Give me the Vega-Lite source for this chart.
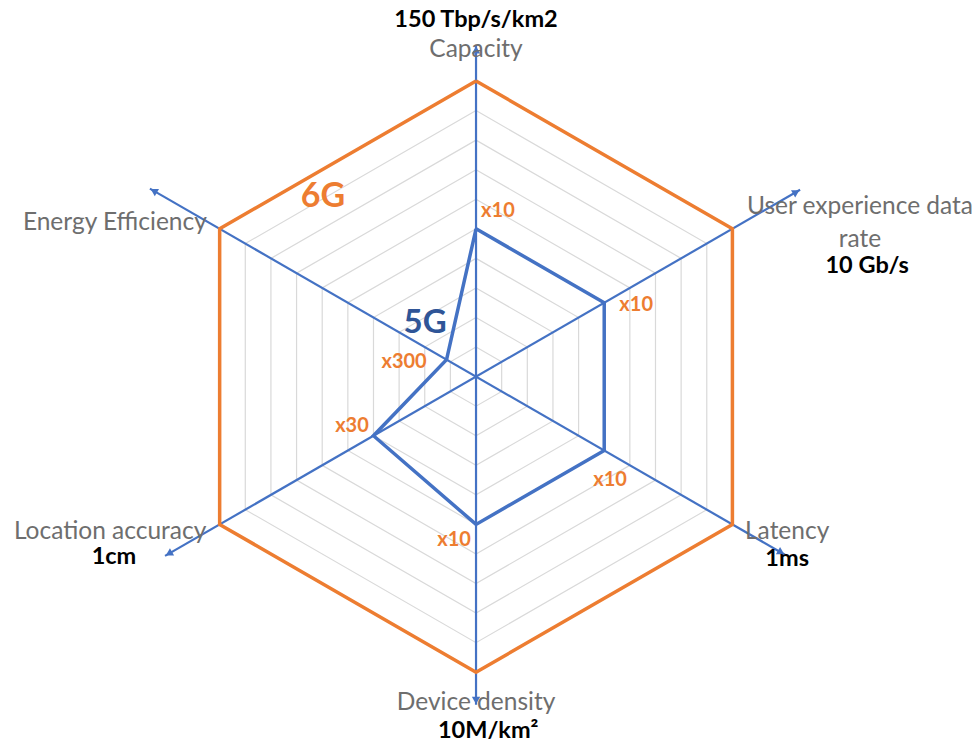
{
  "$schema": "https://vega.github.io/schema/vega-lite/v6.json",
  "width": 979,
  "height": 743,
  "padding": 0,
  "autosize": {"type": "fit", "contains": "padding"},
  "background": "white",
  "config": {"view": {"stroke": null}},
  "datasets": {
    "grid": [
      {"level": 0.1, "axis": [0,1,2,3,4,5,6]},
      {"level": 0.2, "axis": [0,1,2,3,4,5,6]},
      {"level": 0.3, "axis": [0,1,2,3,4,5,6]},
      {"level": 0.4, "axis": [0,1,2,3,4,5,6]},
      {"level": 0.5, "axis": [0,1,2,3,4,5,6]},
      {"level": 0.6, "axis": [0,1,2,3,4,5,6]},
      {"level": 0.7, "axis": [0,1,2,3,4,5,6]},
      {"level": 0.8, "axis": [0,1,2,3,4,5,6]},
      {"level": 0.9, "axis": [0,1,2,3,4,5,6]}
    ],
    "series": [
      {"series": "6G", "axis": 0, "r": 1},
      {"series": "6G", "axis": 1, "r": 1},
      {"series": "6G", "axis": 2, "r": 1},
      {"series": "6G", "axis": 3, "r": 1},
      {"series": "6G", "axis": 4, "r": 1},
      {"series": "6G", "axis": 5, "r": 1},
      {"series": "6G", "axis": 6, "r": 1},
      {"series": "5G", "axis": 0, "r": 0.5},
      {"series": "5G", "axis": 1, "r": 0.5},
      {"series": "5G", "axis": 2, "r": 0.5},
      {"series": "5G", "axis": 3, "r": 0.5},
      {"series": "5G", "axis": 4, "r": 0.4},
      {"series": "5G", "axis": 5, "r": 0.115},
      {"series": "5G", "axis": 6, "r": 0.5}
    ],
    "axes": [
      {"line": "A", "axis": 0, "r": 1.12},
      {"line": "A", "axis": 3, "r": 1.11},
      {"line": "B", "axis": 1, "r": 1.264},
      {"line": "B", "axis": 4, "r": 1.213},
      {"line": "C", "axis": 2, "r": 1.205},
      {"line": "C", "axis": 5, "r": 1.272}
    ],
    "labels": [
      {"kind": "name", "text": "Capacity", "x": 0, "y": 1.105},
      {"kind": "name", "text": "User experience data", "x": 1.297, "y": 0.574},
      {"kind": "name", "text": "rate", "x": 1.297, "y": 0.463},
      {"kind": "name", "text": "Latency", "x": 1.051, "y": -0.524},
      {"kind": "name", "text": "Device density", "x": 0, "y": -1.105},
      {"kind": "name", "text": "Location accuracy", "x": -1.236, "y": -0.524},
      {"kind": "name", "text": "Energy Efficiency", "x": -1.22, "y": 0.52},
      {"kind": "value", "text": "150 Tbp/s/km2", "x": 0, "y": 1.206},
      {"kind": "value", "text": "10 Gb/s", "x": 1.321, "y": 0.375},
      {"kind": "value", "text": "1ms", "x": 1.051, "y": -0.616},
      {"kind": "value", "text": "10M/km²", "x": 0.041, "y": -1.2},
      {"kind": "value", "text": "1cm", "x": -1.223, "y": -0.61},
      {"kind": "mult", "text": "x10", "x": 0.074, "y": 0.561},
      {"kind": "mult", "text": "x10", "x": 0.541, "y": 0.243},
      {"kind": "mult", "text": "x10", "x": 0.453, "y": -0.351},
      {"kind": "mult", "text": "x10", "x": -0.074, "y": -0.554},
      {"kind": "mult", "text": "x30", "x": -0.419, "y": -0.166},
      {"kind": "mult", "text": "x300", "x": -0.243, "y": 0.051},
      {"kind": "gen6", "text": "6G", "x": -0.517, "y": 0.608},
      {"kind": "gen5", "text": "5G", "x": -0.172, "y": 0.182}
    ]
  },
  "layer": [
    {
      "data": {"name": "grid"},
      "transform": [
        {"flatten": ["axis"]},
        {"calculate": "datum.level * sin(datum.axis * PI / 3)", "as": "px"},
        {"calculate": "datum.level * cos(datum.axis * PI / 3)", "as": "py"}
      ],
      "mark": {"type": "line", "stroke": "#D9D9D9", "strokeWidth": 1.2},
      "encoding": {
        "x": {"field": "px", "type": "quantitative", "scale": {"domain": [-1.608, 1.699], "nice": false, "zero": false}, "axis": null},
        "y": {"field": "py", "type": "quantitative", "scale": {"domain": [-1.236, 1.274], "nice": false, "zero": false}, "axis": null},
        "detail": {"field": "level", "type": "nominal"},
        "order": {"field": "axis", "type": "quantitative"}
      }
    },
    {
      "data": {"name": "axes"},
      "transform": [
        {"calculate": "datum.r * sin(datum.axis * PI / 3)", "as": "px"},
        {"calculate": "datum.r * cos(datum.axis * PI / 3)", "as": "py"}
      ],
      "mark": {"type": "line", "stroke": "#4472C4", "strokeWidth": 2.2},
      "encoding": {
        "x": {"field": "px", "type": "quantitative"},
        "y": {"field": "py", "type": "quantitative"},
        "detail": {"field": "line", "type": "nominal"},
        "order": {"field": "axis", "type": "quantitative"}
      }
    },
    {
      "data": {"name": "axes"},
      "transform": [
        {"calculate": "(datum.r - 0.015) * sin(datum.axis * PI / 3)", "as": "px"},
        {"calculate": "(datum.r - 0.015) * cos(datum.axis * PI / 3)", "as": "py"},
        {"calculate": "datum.axis * 60", "as": "deg"}
      ],
      "mark": {"type": "point", "shape": "triangle-up", "filled": true, "color": "#4472C4", "size": 70, "opacity": 1},
      "encoding": {
        "x": {"field": "px", "type": "quantitative"},
        "y": {"field": "py", "type": "quantitative"},
        "angle": {"field": "deg", "type": "quantitative", "scale": null}
      }
    },
    {
      "data": {"name": "series"},
      "transform": [
        {"calculate": "datum.r * sin(datum.axis * PI / 3)", "as": "px"},
        {"calculate": "datum.r * cos(datum.axis * PI / 3)", "as": "py"}
      ],
      "mark": {"type": "line", "strokeWidth": 3.5, "strokeJoin": "miter"},
      "encoding": {
        "x": {"field": "px", "type": "quantitative"},
        "y": {"field": "py", "type": "quantitative"},
        "detail": {"field": "series", "type": "nominal"},
        "order": {"field": "axis", "type": "quantitative"},
        "color": {"field": "series", "type": "nominal", "scale": {"domain": ["6G", "5G"], "range": ["#ED7D31", "#4472C4"]}, "legend": null}
      }
    },
    {
      "data": {"name": "labels"},
      "transform": [{"filter": "datum.kind == 'name'"}],
      "mark": {"type": "text", "font": "Lato", "fontSize": 24.5, "color": "#6E6E6E", "align": "center", "baseline": "middle"},
      "encoding": {
        "x": {"field": "x", "type": "quantitative"},
        "y": {"field": "y", "type": "quantitative"},
        "text": {"field": "text"}
      }
    },
    {
      "data": {"name": "labels"},
      "transform": [{"filter": "datum.kind == 'value'"}],
      "mark": {"type": "text", "font": "Lato", "fontSize": 23.5, "fontWeight": "bold", "color": "#000000", "align": "center", "baseline": "middle"},
      "encoding": {
        "x": {"field": "x", "type": "quantitative"},
        "y": {"field": "y", "type": "quantitative"},
        "text": {"field": "text"}
      }
    },
    {
      "data": {"name": "labels"},
      "transform": [{"filter": "datum.kind == 'mult'"}],
      "mark": {"type": "text", "font": "Lato", "fontSize": 20, "fontWeight": "bold", "color": "#ED7D31", "align": "center", "baseline": "middle"},
      "encoding": {
        "x": {"field": "x", "type": "quantitative"},
        "y": {"field": "y", "type": "quantitative"},
        "text": {"field": "text"}
      }
    },
    {
      "data": {"name": "labels"},
      "transform": [{"filter": "datum.kind == 'gen6'"}],
      "mark": {"type": "text", "font": "Lato", "fontSize": 34, "fontWeight": "bold", "color": "#ED7D31", "align": "center", "baseline": "middle"},
      "encoding": {
        "x": {"field": "x", "type": "quantitative"},
        "y": {"field": "y", "type": "quantitative"},
        "text": {"field": "text"}
      }
    },
    {
      "data": {"name": "labels"},
      "transform": [{"filter": "datum.kind == 'gen5'"}],
      "mark": {"type": "text", "font": "Lato", "fontSize": 33, "fontWeight": "bold", "color": "#2F5597", "align": "center", "baseline": "middle"},
      "encoding": {
        "x": {"field": "x", "type": "quantitative"},
        "y": {"field": "y", "type": "quantitative"},
        "text": {"field": "text"}
      }
    }
  ]
}
